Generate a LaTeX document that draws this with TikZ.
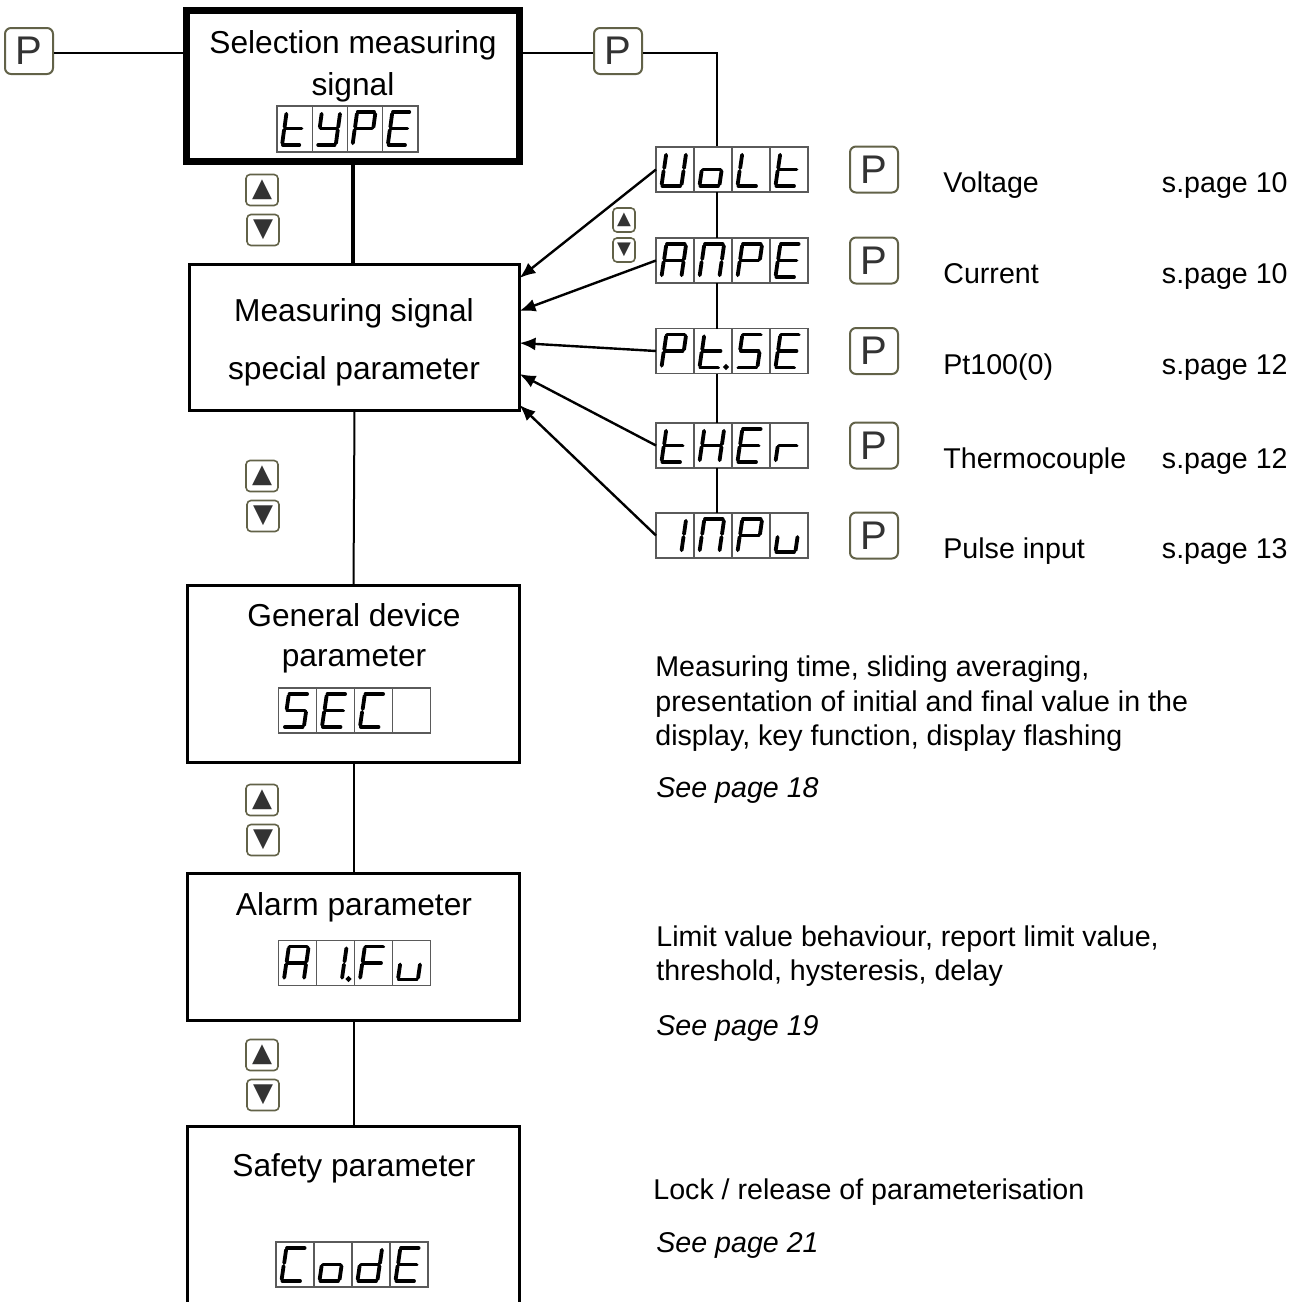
\documentclass[tikz,border=0pt]{standalone}
\usepackage{fontspec}
\setmainfont{Liberation Sans}
\newfontfamily\symfont{DejaVu Sans}
\usetikzlibrary{arrows.meta}
\definecolor{keyline}{RGB}{98,98,72}
\definecolor{cellline}{RGB}{90,90,90}
\newcommand{\defch}[2]{\expandafter\def\csname ch#1\endcsname{#2}}
\defch{t}{d,e,f,g}\defch{Y}{b,c,d,f,g}\defch{P}{a,b,e,f,g}\defch{E}{a,d,e,f,g}
\defch{U}{b,c,d,e,f}\defch{o}{c,d,e,g}\defch{L}{d,e,f}\defch{A}{a,b,c,e,f,g}
\defch{n}{a,b,c,e,f}\defch{S}{a,c,d,f,g}\defch{C}{a,d,e,f}\defch{H}{b,c,e,f,g}
\defch{r}{e,g}\defch{1}{b,c}\defch{u}{c,d,e}\defch{d}{b,c,d,e,g}\defch{F}{a,e,f,g}
\defch{x}{z}\defch{tp}{d,e,f,g,p}\defch{1p}{b,c,p}
\def\sga{(11,6)--(28.6,6)}
\def\sgb{(29.9,7.8)--(28,21)}
\def\sgc{(27.5,24)--(25.6,37.2)}
\def\sgd{(6.4,39)--(24,39)}
\def\sge{(7.6,24)--(5.7,37.2)}
\def\sgf{(10.1,7.8)--(8.2,21)}
\def\sgg{(8.9,22.5)--(26.5,22.5)}
\def\sgp{(32,38.5) circle (0.25pt)}
\def\sgz{}
\newcommand{\segshow}[3][38]{%
  \foreach \dch [count=\k] in {#3}{
    \begin{scope}[shift={(#2.north west)}, xshift={(\k-1)*#1*0.5}, xscale=#1/38]
      \ifnum\k>1 \draw[celldiv] (0,0) -- (0,45); \fi
      \edef\seglist{\csname ch\dch\endcsname}
      \foreach \s in \seglist {\edef\segpath{\noexpand\draw[seg] \csname sg\s\endcsname;}\segpath}
    \end{scope}
  }}
\tikzset{
  box/.style={draw, line width=1.5pt, fill=white, inner sep=0pt, outer sep=0pt},
  disp/.style={draw=cellline, line width=0.6pt, fill=white, minimum width=76pt, minimum height=22.5pt, inner sep=0pt, outer sep=0pt},
  celldiv/.style={draw=cellline, line width=0.6pt},
  seg/.style={line width=1.9pt, line cap=round},
  pkey/.style={draw=keyline, line width=1pt, fill=white, rounded corners=3pt, minimum width=24pt, minimum height=23pt, inner sep=0pt, text=black!80, font=\fontsize{20}{20}\selectfont},
  akey/.style={draw=keyline, line width=0.8pt, fill=white, rounded corners=2pt, minimum width=16pt, minimum height=15.5pt, inner sep=0pt, text=black!80, font=\symfont\fontsize{13}{13}\selectfont},
  skey/.style={akey, minimum width=11pt, minimum height=12pt, font=\symfont\fontsize{9}{9}\selectfont},
  link/.style={line width=1pt},
  arr/.style={line width=1.2pt, -{Latex[length=8pt,width=6.5pt]}},
  boxtext/.style={font=\fontsize{15.85}{19}\selectfont, inner sep=0pt, anchor=base},
  side/.style={font=\fontsize{14.3}{17}\selectfont, inner sep=0pt, anchor=base west},
  sideit/.style={side, font=\fontsize{14.3}{17}\selectfont\itshape},
}
\begin{document}
\begin{tikzpicture}[x=0.5pt,y=-0.5pt]
\useasboundingbox (0,0) rectangle (1305,1301);
\clip (0,0) rectangle (1305,1301);
\coordinate (bus) at (717,53);
\node[box, line width=3.5pt, minimum width=166.5pt, minimum height=75.5pt] (sel) at (353,86) {};
\node[box, minimum width=165pt, minimum height=73pt] (meas) at (354.5,337.5) {};
\node[box, minimum width=166pt, minimum height=88.5pt] (gen) at (353.5,674) {};
\node[box, minimum width=166pt, minimum height=73.5pt] (alm) at (353.5,947) {};
\node[box, minimum width=166pt, minimum height=97pt] (saf) at (353.5,1223) {};
\node[boxtext] (selt1) at (353,54) {Selection measuring};
\node[boxtext] (selt2) at (353,95) {signal};
\node[boxtext] (meast1) at (354,321) {Measuring signal};
\node[boxtext] (meast2) at (354,379) {special parameter};
\node[boxtext] (gent1) at (354,626) {General device};
\node[boxtext] (gent2) at (354,666) {parameter};
\node[boxtext] (almt) at (354,915) {Alarm parameter};
\node[boxtext] (saft) at (354,1176) {Safety parameter};
\node[disp, minimum width=70.5pt, minimum height=23pt] (typ) at (347.5,129) {};
\node[disp] (sec) at (354.5,710.5) {};
\node[disp] (alfu) at (354.5,963) {};
\node[disp] (code) at (352,1264.5) {};
\draw[line width=2.2pt] (sel.south) -- (sel.south |- meas.north);
\foreach \a/\b in {meas/gen, gen/alm, alm/saf} \draw[link] (\a.south) -- (\b.north);
\node[pkey] (pl) at (29,51) {P};
\node[pkey] (pr) at (618,51) {P};
\draw[link] (pl.east |- bus) -- (sel.west |- bus);
\draw[link] (sel.east |- bus) -- (pr.west |- bus);
\draw[link] (pr.east |- bus) -- (bus) -- (bus |- 0,147);
\foreach \nm/\yy/\tip/\lbl/\pg in {volt/169.5/278/Voltage/10, ampe/260.5/311/Current/10, ptse/351/343/Pt100(0)/12, ther/445.5/374/Thermocouple/12, inpu/535.5/405/Pulse input/13}{
  \node[disp] (\nm) at (732,\yy) {};
  \node[pkey] (p\nm) at (874,\yy) {P};
  \node[side] (l\nm) at (943,\yy+23) {\lbl};
  \node[side, anchor=base east] (s\nm) at (1288,\yy+23) {s.page \pg};
  \draw[arr] (\nm.west) -- (meas.east |- 0,\tip);
}
\foreach \a/\b in {volt/ampe, ampe/ptse, ptse/ther, ther/inpu} \draw[link] (\a.south -| bus) -- (\b.north -| bus);
\segshow[35.25]{typ}{t,Y,P,E}
\segshow{volt}{U,o,L,t}
\segshow{ampe}{A,n,P,E}
\segshow{ptse}{P,tp,S,E}
\segshow{ther}{t,H,E,r}
\segshow{inpu}{1,n,P,u}
\segshow{sec}{S,E,C,x}
\segshow{alfu}{A,1p,F,u}
\segshow{code}{C,o,d,E}
\foreach \n/\yy in {1/190, 2/476, 3/800, 4/1055}{
  \node[akey] (up\n) at (262,\yy) {▲};
  \node[akey] (dn\n) at (263,\yy+40) {▼};
}
\node[skey] (sup) at (624,220) {▲};
\node[skey] (sdn) at (624,250) {▼};
\node[side] (g1) at (655,676) {Measuring time, sliding averaging,};
\node[side] (g2) at (655,711) {presentation of initial and final value in the};
\node[side] (g3) at (655,745) {display, key function, display flashing};
\node[sideit] (g4) at (656,797) {See page 18};
\node[side] (a1) at (656,946) {Limit value behaviour, report limit value,};
\node[side] (a2) at (656,980) {threshold, hysteresis, delay};
\node[sideit] (a3) at (656,1035) {See page 19};
\node[side] (s1) at (653,1199) {Lock / release of parameterisation};
\node[sideit] (s2) at (656,1252) {See page 21};
\end{tikzpicture}
\end{document}
